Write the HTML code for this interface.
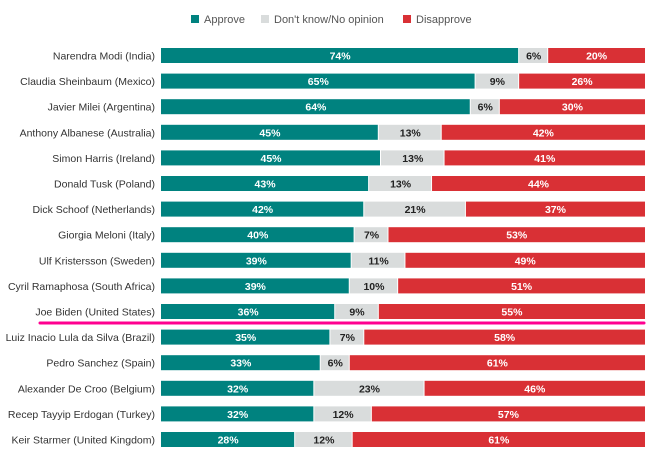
<!DOCTYPE html>
<html><head><meta charset="utf-8"><style>
body{margin:0;background:#fff;width:651px;height:451px;overflow:hidden;font-family:"Liberation Sans",sans-serif}
</style></head><body>
<svg id="c" width="651" height="451"></svg>
<script>
const leaders=["Narendra Modi (India)","Claudia Sheinbaum (Mexico)","Javier Milei (Argentina)","Anthony Albanese (Australia)","Simon Harris (Ireland)","Donald Tusk (Poland)","Dick Schoof (Netherlands)","Giorgia Meloni (Italy)","Ulf Kristersson (Sweden)","Cyril Ramaphosa (South Africa)","Joe Biden (United States)","Luiz Inacio Lula da Silva (Brazil)","Pedro Sanchez (Spain)","Alexander De Croo (Belgium)","Recep Tayyip Erdogan (Turkey)","Keir Starmer (United Kingdom)"];
const approve=[74,65,64,45,45,43,42,40,39,39,36,35,33,32,32,28];
const dontKnow=[6,9,6,13,13,13,21,7,11,10,9,7,6,23,12,12];
const disapprove=[20,26,30,42,41,44,37,53,49,51,55,58,61,46,57,61];
const ns="http://www.w3.org/2000/svg";
const svg=document.getElementById('c');
const X0=161,W=484,Y0=48,STEP=25.6,BH=15;
function mk(t,a){const e=document.createElementNS(ns,t);for(const k in a)e.setAttribute(k,a[k]);svg.appendChild(e);return e;}
const leg=[["Approve","#00827f",191],["Don't know/No opinion","#d9dcdc",261],["Disapprove","#d93035",403]];
leg.forEach(l=>{
 const r=mk('rect',{x:l[2],y:15,width:8,height:8,fill:l[1]});
 
 
 const t=mk('text',{x:l[2]+13,y:23,'font-size':11,fill:'#555'});t.textContent=l[0];
 
 
});
leaders.forEach((n,i)=>{
 const y=Y0+i*STEP;
 const total=approve[i]+dontKnow[i]+disapprove[i];
 const x=v=>X0+v/total*W;
 const lab=mk('text',{x:155,y:y+11.5,'font-size':10.5,fill:'#333','text-anchor':'end'});lab.textContent=n;
 
 
 const segs=[[approve[i],'#00827f','#fff'],[dontKnow[i],'#d9dcdc','#222'],[disapprove[i],'#d93035','#fff']];
 let acc=0;
 segs.forEach((s,j)=>{
  const x1=x(acc),x2=x(acc+s[0]);
  const r=mk('rect',{x:x1,y:y,width:Math.max(0,x2-x1-(j<2?1:0)),height:BH,fill:s[1]});
  
  
  const t=mk('text',{x:(x1+x2)/2,y:y+11.5,'font-size':10.5,'font-weight':'bold',fill:s[2],'text-anchor':'middle'});
  t.textContent=s[0]+'%';
  
  
  acc+=s[0];
 });
});
const hl=mk('line',{x1:40,x2:644,y1:323,y2:323,stroke:'#ff0090','stroke-width':3,'stroke-linecap':'round'});


</script>
</body></html>
